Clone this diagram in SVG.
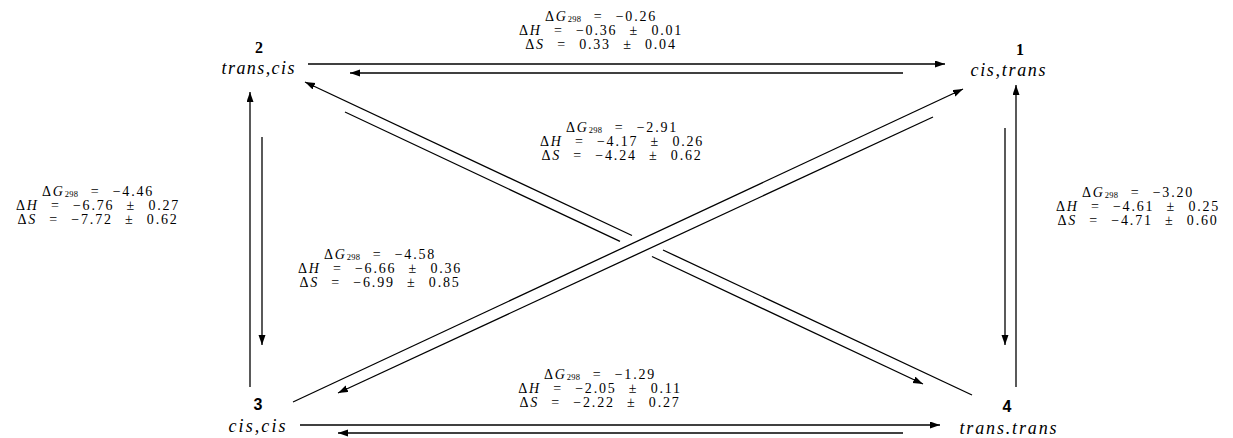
<svg xmlns="http://www.w3.org/2000/svg" width="1233" height="438" viewBox="0 0 1233 438">
<style>
.lbl{font-family:"Liberation Serif",serif;font-size:14px;fill:#000;text-anchor:middle;letter-spacing:1.8px;word-spacing:7px}
.sub{font-size:8.5px;letter-spacing:0.3px}
.it{font-style:italic}
.num{font-family:"Liberation Serif",serif;font-weight:bold;font-size:16px;text-anchor:middle}
.nums{font-family:"Liberation Sans",sans-serif;font-weight:bold;font-size:16px;text-anchor:middle}
.name{font-family:"Liberation Serif",serif;font-style:italic;font-size:18px;text-anchor:middle}
.ln{stroke:#000;stroke-width:1.3;fill:none}
.hz{stroke:#000;stroke-width:1.7;fill:none}
</style>
<defs>
<marker id="ah" markerUnits="userSpaceOnUse" markerWidth="11" markerHeight="8" refX="10" refY="3.5" orient="auto">
<path d="M0,0 L10,3.5 L0,7 z" fill="#000"/>
</marker>
</defs>
<rect width="1233" height="438" fill="#fff"/>

<g id="node1">
<text class="num" x="1020" y="55">1</text>
<text class="name" x="1008" y="76" textLength="75" lengthAdjust="spacing">cis,trans</text>
</g>
<g id="node2">
<text class="num" x="259" y="53">2</text>
<text class="name" x="258" y="74" textLength="73" lengthAdjust="spacing">trans,cis</text>
</g>
<g id="node3">
<text class="nums" x="258" y="410">3</text>
<text class="name" x="257" y="432" textLength="57" lengthAdjust="spacing">cis,cis</text>
</g>
<g id="node4">
<text class="nums" x="1007" y="412">4</text>
<text class="name" x="1008" y="434" textLength="97" lengthAdjust="spacing">trans.trans</text>
</g>

<g id="connectors">
<line class="hz" x1="308" y1="64" x2="945" y2="64" marker-end="url(#ah)"/>
<line class="hz" x1="903" y1="73" x2="350" y2="73" marker-end="url(#ah)"/>
<line class="hz" x1="300" y1="425" x2="940" y2="425" marker-end="url(#ah)"/>
<line class="hz" x1="903" y1="433" x2="338" y2="433" marker-end="url(#ah)"/>
<line class="ln" x1="250" y1="387" x2="250" y2="92" marker-end="url(#ah)"/>
<line class="ln" x1="262" y1="137" x2="262" y2="345" marker-end="url(#ah)"/>
<line class="ln" x1="1016" y1="387" x2="1016" y2="85" marker-end="url(#ah)"/>
<line class="ln" x1="1005" y1="128" x2="1005" y2="345" marker-end="url(#ah)"/>
<line class="ln" x1="972" y1="395" x2="663" y2="250" />
<line class="ln" x1="632" y1="235.5" x2="305" y2="82" marker-end="url(#ah)"/>
<line class="ln" x1="345" y1="112" x2="620" y2="241.4"/>
<line class="ln" x1="652" y1="256.5" x2="923" y2="384" marker-end="url(#ah)"/>
<line class="ln" x1="293" y1="402" x2="963" y2="89" marker-end="url(#ah)"/>
<line class="ln" x1="933" y1="117" x2="338" y2="393" marker-end="url(#ah)"/>
</g>

<g id="label12">
<text class="lbl" x="601" y="21">Δ<tspan class="it">G</tspan><tspan class="sub" dy="1">298</tspan><tspan dy="-1"> = −0.26</tspan></text>
<text class="lbl" x="601" y="35">Δ<tspan class="it">H</tspan> = −0.36 ± 0.01</text>
<text class="lbl" x="601" y="49">Δ<tspan class="it">S</tspan> = 0.33 ± 0.04</text>
</g>
<g id="label24">
<text class="lbl" x="622" y="132">Δ<tspan class="it">G</tspan><tspan class="sub" dy="1">298</tspan><tspan dy="-1"> = −2.91</tspan></text>
<text class="lbl" x="622" y="146">Δ<tspan class="it">H</tspan> = −4.17 ± 0.26</text>
<text class="lbl" x="622" y="160">Δ<tspan class="it">S</tspan> = −4.24 ± 0.62</text>
</g>
<g id="label23">
<text class="lbl" x="98" y="196">Δ<tspan class="it">G</tspan><tspan class="sub" dy="1">298</tspan><tspan dy="-1"> = −4.46</tspan></text>
<text class="lbl" x="98" y="210">Δ<tspan class="it">H</tspan> = −6.76 ± 0.27</text>
<text class="lbl" x="98" y="224">Δ<tspan class="it">S</tspan> = −7.72 ± 0.62</text>
</g>
<g id="label14">
<text class="lbl" x="1138" y="197">Δ<tspan class="it">G</tspan><tspan class="sub" dy="1">298</tspan><tspan dy="-1"> = −3.20</tspan></text>
<text class="lbl" x="1138" y="211">Δ<tspan class="it">H</tspan> = −4.61 ± 0.25</text>
<text class="lbl" x="1138" y="225">Δ<tspan class="it">S</tspan> = −4.71 ± 0.60</text>
</g>
<g id="label13">
<text class="lbl" x="380" y="259">Δ<tspan class="it">G</tspan><tspan class="sub" dy="1">298</tspan><tspan dy="-1"> = −4.58</tspan></text>
<text class="lbl" x="380" y="273">Δ<tspan class="it">H</tspan> = −6.66 ± 0.36</text>
<text class="lbl" x="380" y="287">Δ<tspan class="it">S</tspan> = −6.99 ± 0.85</text>
</g>
<g id="label34">
<text class="lbl" x="600" y="379">Δ<tspan class="it">G</tspan><tspan class="sub" dy="1">298</tspan><tspan dy="-1"> = −1.29</tspan></text>
<text class="lbl" x="600" y="393">Δ<tspan class="it">H</tspan> = −2.05 ± 0.11</text>
<text class="lbl" x="600" y="407">Δ<tspan class="it">S</tspan> = −2.22 ± 0.27</text>
</g>
</svg>
